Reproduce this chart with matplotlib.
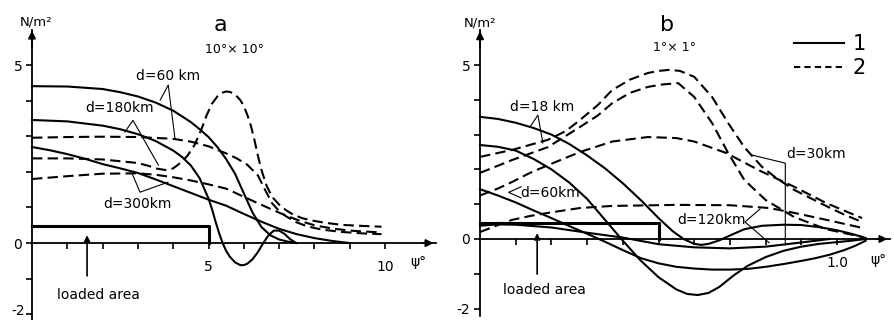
import matplotlib
matplotlib.use("Agg")
import matplotlib.pyplot as plt
from matplotlib.lines import Line2D

plt.rcParams['font.family'] = ['DejaVu Sans']
plt.rcParams['axes.unicode_minus'] = False

# ---- panel a (10 x 10 deg), x in degrees ----
a_s60_x = [0, 1, 2, 2.5, 3, 3.5, 4, 4.5, 4.75, 5, 5.25, 5.5, 5.75, 6, 6.25, 6.5, 6.75, 7, 7.25, 7.5]
a_s60_y = [4.41, 4.4, 4.33, 4.24, 4.12, 3.95, 3.72, 3.4, 3.2, 2.98, 2.7, 2.36, 1.95, 1.4, 0.85, 0.45, 0.22, 0.1, 0.04, 0.0]
a_s180_x = [0, 1, 2, 2.5, 3, 3.5, 4, 4.25, 4.5, 4.75, 5.0, 5.1, 5.2, 5.3, 5.4, 5.5, 5.6, 5.75, 5.9, 6.0,
            6.1, 6.25, 6.4, 6.55, 6.7, 6.85, 7.0, 7.15, 7.3, 7.45]
a_s180_y = [3.46, 3.42, 3.3, 3.2, 3.06, 2.87, 2.6, 2.42, 2.18, 1.82, 1.25, 0.95, 0.6, 0.28, 0.0, -0.22, -0.38, -0.54, -0.62, -0.62,
            -0.58, -0.45, -0.25, 0.0, 0.22, 0.35, 0.35, 0.26, 0.12, 0.02]
a_s300_x = [0, 0.5, 1, 1.5, 2, 2.5, 3, 3.5, 4, 4.5, 5, 5.5, 6, 6.5, 7, 7.5, 8, 8.5, 9]
a_s300_y = [2.7, 2.61, 2.5, 2.37, 2.22, 2.1, 1.97, 1.79, 1.6, 1.41, 1.22, 1.05, 0.82, 0.6, 0.4, 0.25, 0.14, 0.06, 0.0]
a_d60_x = [0, 1, 2, 3, 4, 4.5, 5, 5.5, 5.8, 6.1, 6.4, 6.6, 6.8, 7.0, 7.2, 7.5, 7.8, 8.2, 8.8, 9.4, 9.9]
a_d60_y = [2.96, 2.98, 2.99, 2.98, 2.93, 2.85, 2.72, 2.52, 2.38, 2.2, 1.9, 1.5, 1.12, 0.9, 0.75, 0.58, 0.47, 0.38, 0.31, 0.27, 0.25]
a_d180_x = [0, 1, 2, 3, 3.3, 3.55, 3.8, 4.0, 4.2, 4.4, 4.6, 4.8, 4.95, 5.1, 5.25, 5.4, 5.5, 5.6, 5.75, 5.9, 6.0,
            6.1, 6.2, 6.3, 6.4, 6.5, 6.65, 6.8, 7.0, 7.2, 7.4, 7.65, 7.9, 8.3, 8.8, 9.4, 9.9]
a_d180_y = [2.38, 2.38, 2.35, 2.25, 2.17, 2.09, 2.05, 2.1, 2.25, 2.45, 2.75, 3.2, 3.6, 3.92, 4.12, 4.23, 4.26, 4.25, 4.18, 4.02, 3.85,
            3.6, 3.3, 2.9, 2.45, 2.05, 1.6, 1.3, 1.08, 0.92, 0.8, 0.7, 0.64, 0.57, 0.51, 0.48, 0.46]
a_d300_x = [0, 1, 2, 3, 3.5, 4, 4.5, 5, 5.5, 6, 6.4, 6.8, 7.2, 7.6, 8, 8.5, 9, 9.5, 9.9]
a_d300_y = [1.8, 1.88, 1.95, 1.96, 1.92, 1.85, 1.76, 1.65, 1.53, 1.3, 1.12, 0.94, 0.77, 0.62, 0.5, 0.41, 0.35, 0.32, 0.3]
a_load_x = [0, 5, 5]
a_load_y = [0.48, 0.48, 0]

# ---- panel b (1 x 1 deg) ----
b_s18_x = [0, 0.05, 0.1, 0.15, 0.2, 0.25, 0.3, 0.35, 0.4, 0.45, 0.5, 0.54, 0.57, 0.6, 0.62, 0.64, 0.67, 0.7,
           0.74, 0.79, 0.85, 0.9, 0.95, 1.0, 1.04, 1.08]
b_s18_y = [3.51, 3.45, 3.34, 3.19, 3.0, 2.73, 2.4, 2.03, 1.6, 1.12, 0.6, 0.22, 0.0, -0.14, -0.17, -0.14, -0.04, 0.1,
           0.28, 0.38, 0.41, 0.4, 0.34, 0.25, 0.15, 0.03]
b_s30_x = [0, 0.05, 0.1, 0.15, 0.2, 0.25, 0.3, 0.35, 0.4, 0.45, 0.5, 0.55, 0.58, 0.61, 0.64, 0.67, 0.71, 0.75,
           0.8, 0.85, 0.9, 0.95, 1.0, 1.04, 1.08]
b_s30_y = [2.7, 2.65, 2.54, 2.3, 2.0, 1.62, 1.15, 0.55, -0.05, -0.62, -1.1, -1.45, -1.58, -1.61, -1.55, -1.38, -1.05, -0.77,
           -0.52, -0.34, -0.22, -0.14, -0.09, -0.05, 0.0]
b_s60_x = [0, 0.05, 0.1, 0.15, 0.2, 0.25, 0.3, 0.35, 0.4, 0.45, 0.5, 0.55, 0.6, 0.65, 0.7, 0.75, 0.8, 0.85,
           0.9, 0.94, 0.98, 1.02, 1.05, 1.08]
b_s60_y = [1.43, 1.25, 1.05, 0.82, 0.6, 0.37, 0.15, -0.08, -0.32, -0.55, -0.7, -0.8, -0.85, -0.88, -0.88, -0.86, -0.8, -0.72,
           -0.63, -0.55, -0.45, -0.32, -0.2, -0.05]
b_s120_x = [0, 0.05, 0.1, 0.2, 0.3, 0.4, 0.5, 0.6, 0.7, 0.8, 0.9, 0.98]
b_s120_y = [0.38, 0.42, 0.41, 0.33, 0.18, 0.04, -0.15, -0.24, -0.27, -0.22, -0.1, 0.0]
b_d18_x = [0, 0.09, 0.19, 0.24, 0.28, 0.33, 0.37, 0.42, 0.47, 0.5, 0.53, 0.56, 0.6, 0.65, 0.695, 0.74, 0.79,
           0.83, 0.88, 0.975, 1.02, 1.07]
b_d18_y = [2.36, 2.56, 2.85, 3.1, 3.42, 3.85, 4.28, 4.58, 4.77, 4.83, 4.86, 4.83, 4.66, 4.08, 3.33, 2.64, 2.07,
           1.75, 1.41, 0.92, 0.7, 0.49]
b_d30_x = [0, 0.09, 0.19, 0.28, 0.33, 0.37, 0.42, 0.47, 0.51, 0.555, 0.6, 0.65, 0.695, 0.74, 0.8, 0.88, 0.97, 1.07]
b_d30_y = [1.9, 2.27, 2.64, 3.22, 3.55, 3.9, 4.2, 4.37, 4.44, 4.48, 4.08, 3.33, 2.47, 1.7, 1.12, 0.63, 0.28, 0.06]
b_d60_x = [0, 0.05, 0.09, 0.14, 0.19, 0.28, 0.37, 0.47, 0.55, 0.6, 0.69, 0.78, 0.88, 0.97, 1.07]
b_d60_y = [1.25, 1.45, 1.64, 1.9, 2.12, 2.5, 2.8, 2.93, 2.9, 2.8, 2.47, 1.98, 1.5, 1.03, 0.6]
b_d120_x = [0, 0.05, 0.09, 0.14, 0.19, 0.28, 0.37, 0.55, 0.7, 0.81, 0.88, 0.97, 1.07]
b_d120_y = [0.2, 0.4, 0.55, 0.66, 0.75, 0.89, 0.95, 0.98, 0.97, 0.89, 0.75, 0.55, 0.32]
b_load_x = [0, 0.5, 0.5]
b_load_y = [0.46, 0.46, 0]

DASH = (0, (5, 2.5))
LW = 1.5


def setup(ax, xticks, xlabels, xend, yend, ylabels):
    for s in ('top', 'right'):
        ax.spines[s].set_visible(False)
    ax.spines['left'].set_position(('data', 0))
    ax.spines['bottom'].set_position(('data', 0))
    ax.spines['left'].set_bounds(-2.2, yend)
    ax.spines['bottom'].set_bounds(0, xend)
    ax.spines['left'].set_linewidth(1.3)
    ax.spines['bottom'].set_linewidth(1.3)
    ax.set_xticks(xticks)
    ax.set_xticklabels(xlabels, fontsize=10)
    ax.set_yticks(range(-2, 6))
    ax.set_yticklabels(ylabels, fontsize=10)
    ax.tick_params(axis='x', direction='out', length=4, width=1.2, pad=8)
    ax.tick_params(axis='y', direction='out', length=4, width=1.2, pad=3)
    ax.annotate('', xy=(xend + 0.001, 0), xytext=(xend * 0.96, 0),
                arrowprops=dict(arrowstyle='-|>', color='k', lw=1.3, mutation_scale=11),
                annotation_clip=False)
    ax.annotate('', xy=(0, yend + 0.05), xytext=(0, yend - 0.6),
                arrowprops=dict(arrowstyle='-|>', color='k', lw=1.3, mutation_scale=11),
                annotation_clip=False)


fig = plt.figure(figsize=(8.95, 3.2), dpi=100)

# ---------------- panel a ----------------
ax = fig.add_axes([0.0239, 0.0069, 0.4655, 0.934])
ax.set_xlim(-0.3, 11.5)
ax.set_ylim(-2.1, 6.3)
setup(ax, range(1, 11), ['' if v not in (5, 10) else str(v) for v in range(1, 11)], 11.45, 6.0,
      ['', '', '0', '', '', '', '', '5'])
# "-2" set by hand, a touch higher so it stays inside the picture
ax.text(-0.2, -1.9, '-2', fontsize=10, ha='right', va='center')

for xs, ys in [(a_s60_x, a_s60_y), (a_s180_x, a_s180_y), (a_s300_x, a_s300_y)]:
    ax.plot(xs, ys, color='k', lw=LW)
for xs, ys in [(a_d60_x, a_d60_y), (a_d180_x, a_d180_y), (a_d300_x, a_d300_y)]:
    ax.plot(xs, ys, color='k', lw=LW, linestyle=DASH)
ax.plot(a_load_x, a_load_y, color='k', lw=2.2)

ax.text(3.85, 4.69, 'd=60 km', fontsize=10, ha='center', va='center')
ax.plot([3.63, 3.86, 4.05], [4.02, 4.44, 2.94], color='k', lw=0.8)
ax.text(2.49, 3.79, 'd=180km', fontsize=10, ha='center', va='center')
ax.plot([2.63, 2.86, 3.58], [3.12, 3.45, 2.19], color='k', lw=0.8)
ax.text(3.0, 1.1, 'd=300km', fontsize=10, ha='center', va='center')
ax.plot([2.83, 3.06, 3.85], [1.97, 1.43, 1.71], color='k', lw=0.8)

ax.text(0.1, 6.22, 'N/m²', fontsize=9.5, ha='center', va='center')
ax.text(5.33, 6.14, 'a', fontsize=16, ha='center', va='center')
ax.text(5.75, 5.45, '10°× 10°', fontsize=9, ha='center', va='center')
ax.text(10.93, -0.53, 'ψ°', fontsize=10, ha='center', va='center')
ax.text(1.88, -1.46, 'loaded area', fontsize=10, ha='center', va='center')
ax.annotate('', xy=(1.56, 0.3), xytext=(1.56, -1.0),
            arrowprops=dict(arrowstyle='-|>', color='k', lw=1.2, mutation_scale=9))

# ---------------- panel b ----------------
bx = fig.add_axes([0.5244, 0.0194, 0.4707, 0.9297])
bx.set_xlim(-0.03, 1.15)
bx.set_ylim(-2.15, 6.4)
xt = [round(0.1 * i, 1) for i in range(1, 11)]
setup(bx, xt, ['1.0' if v == 1.0 else '' for v in xt], 1.148, 6.0,
      ['-2', '', '0', '', '', '', '', '5'])

for xs, ys in [(b_s18_x, b_s18_y), (b_s30_x, b_s30_y), (b_s60_x, b_s60_y), (b_s120_x, b_s120_y)]:
    bx.plot(xs, ys, color='k', lw=LW)
for xs, ys in [(b_d18_x, b_d18_y), (b_d30_x, b_d30_y), (b_d60_x, b_d60_y), (b_d120_x, b_d120_y)]:
    bx.plot(xs, ys, color='k', lw=LW, linestyle=DASH)
bx.plot(b_load_x, b_load_y, color='k', lw=2.2)

bx.text(0.174, 3.79, 'd=18 km', fontsize=10, ha='center', va='center')
bx.plot([0.14, 0.162, 0.176], [3.22, 3.56, 2.76], color='k', lw=0.8)
bx.text(0.197, 1.32, 'd=60km', fontsize=10, ha='center', va='center')
bx.plot([0.115, 0.08, 0.115], [1.5, 1.34, 1.18], color='k', lw=0.8)
bx.text(0.94, 2.44, 'd=30km', fontsize=10, ha='center', va='center')
bx.plot([0.762, 0.855, 0.855], [2.41, 2.18, -0.17], color='k', lw=0.8)
bx.text(0.647, 0.55, 'd=120km', fontsize=10, ha='center', va='center')
bx.plot([0.784, 0.742, 0.81], [0.86, 0.49, -0.11], color='k', lw=0.8)

bx.text(0.0, 6.22, 'N/m²', fontsize=9.5, ha='center', va='center')
bx.text(0.524, 6.15, 'b', fontsize=16, ha='center', va='center')
bx.text(0.546, 5.49, '1°× 1°', fontsize=9, ha='center', va='center')
bx.text(1.115, -0.6, 'ψ°', fontsize=10, ha='center', va='center')
bx.text(0.18, -1.47, 'loaded area', fontsize=10, ha='center', va='center')
bx.annotate('', xy=(0.16, 0.25), xytext=(0.16, -1.09),
            arrowprops=dict(arrowstyle='-|>', color='k', lw=1.2, mutation_scale=9))

handles = [Line2D([], [], color='k', lw=1.5), Line2D([], [], color='k', lw=1.5, linestyle=(0, (3, 2)))]
bx.legend(handles, ['1', '2'], loc='upper right', bbox_to_anchor=(0.965, 0.975), frameon=False,
          fontsize=15, handlelength=2.4, handletextpad=0.4, labelspacing=0.2, borderpad=0)

fig.savefig('out.png', dpi=100)
